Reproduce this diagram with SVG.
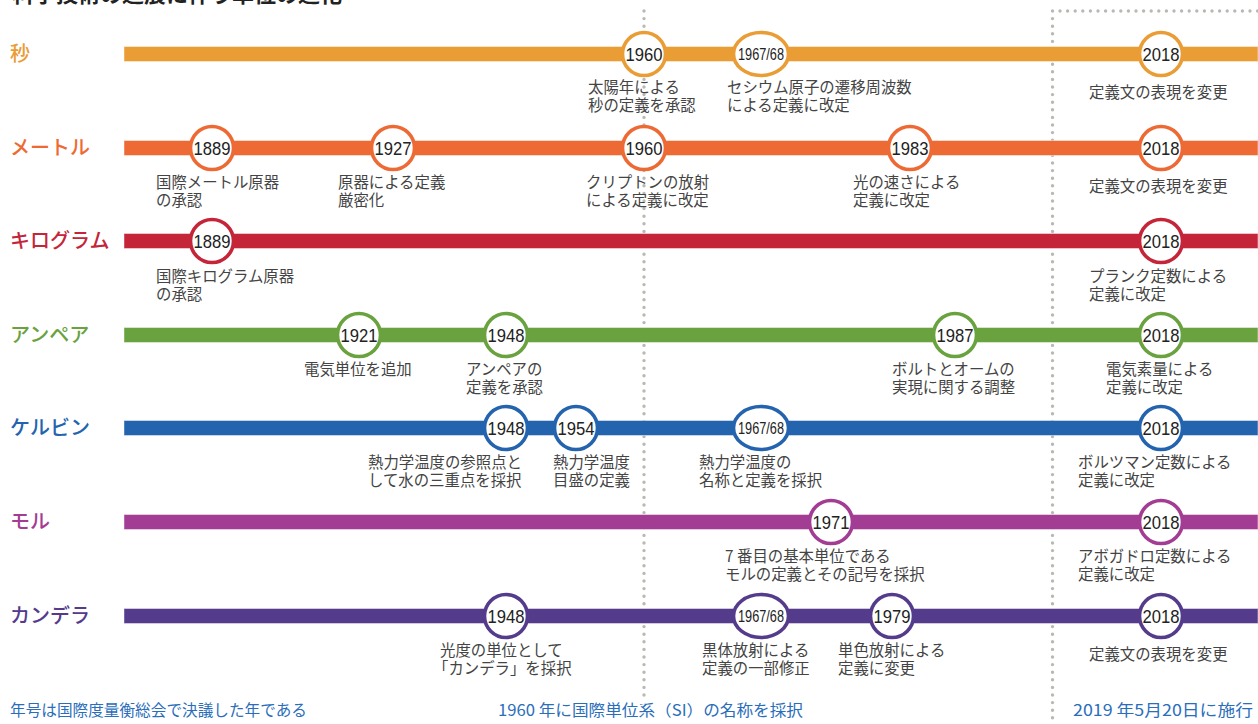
<svg xmlns="http://www.w3.org/2000/svg" width="1258" height="724" viewBox="0 0 1258 724">
<style>
.bg{fill:#ffffff}
.dot{stroke:#b9b9b3;stroke-width:3.4;stroke-linecap:round;stroke-dasharray:0 7.6;fill:none}
.bar{stroke:#ffffff;stroke-opacity:0.45;stroke-width:1}
.ring{fill:#ffffff;stroke-width:3.6}
.yr{font-family:"Liberation Sans",Arial,sans-serif;font-size:19px;fill:#222;text-anchor:middle}
.yr2{font-family:"Liberation Sans",Arial,sans-serif;font-size:16px;fill:#222;text-anchor:middle}
.lab{font-family:"Noto Sans CJK JP","Noto Sans",sans-serif;font-size:15.4px;fill:#444}
.unit{font-family:"Noto Sans CJK JP","Noto Sans",sans-serif;font-size:20px;font-weight:500}
.note{font-family:"Noto Sans CJK JP","Noto Sans",sans-serif;font-size:15.5px;fill:#2a6ebb}
.title{font-family:"Noto Sans CJK JP","Noto Sans",sans-serif;font-size:22px;font-weight:700;fill:#222}
.c1{fill:#ea9c35}.s1{stroke:#ea9c35}
.c2{fill:#ee6a34}.s2{stroke:#ee6a34}
.c3{fill:#c42539}.s3{stroke:#c42539}
.c4{fill:#69a23e}.s4{stroke:#69a23e}
.c5{fill:#2463ae}.s5{stroke:#2463ae}
.c6{fill:#a33c93}.s6{stroke:#a33c93}
.c7{fill:#553b8c}.s7{stroke:#553b8c}
</style>
<rect class="bg" x="0" y="0" width="1258" height="724"/>
<text class="title" x="12" y="2">科学技術の進展に伴う単位の進化</text>

<g id="guides">
<line class="dot" x1="644" y1="11" x2="644" y2="700"/>
<line class="dot" x1="1052.5" y1="11" x2="1052.5" y2="724"/>
<line class="dot" x1="1060" y1="11" x2="1258" y2="11"/>
</g>

<g id="connectors">
<rect class="bar c1" x="124" y="46.5" width="1134" height="15"/>
<rect class="bar c2" x="124" y="140.5" width="1134" height="15"/>
<rect class="bar c3" x="124" y="233.5" width="1134" height="15"/>
<rect class="bar c4" x="124" y="327.5" width="1134" height="15"/>
<rect class="bar c5" x="124" y="420.5" width="1134" height="15"/>
<rect class="bar c6" x="124" y="514.5" width="1134" height="15"/>
<rect class="bar c7" x="124" y="608.5" width="1134" height="15"/>
</g>

<g id="row-second">
<text class="unit c1" x="10" y="61">秒</text>
<g id="s1960"><circle class="ring s1" cx="644" cy="54" r="21.5"/><text class="yr" x="644" y="61" textLength="37" lengthAdjust="spacingAndGlyphs">1960</text>
<text class="lab" x="588" y="93">太陽年による</text><text class="lab" x="588" y="111">秒の定義を承認</text></g>
<g id="s1967"><ellipse class="ring s1" cx="761" cy="54" rx="27.5" ry="21.5"/><text class="yr2" x="761" y="60" textLength="46" lengthAdjust="spacingAndGlyphs">1967/68</text>
<text class="lab" x="727" y="93">セシウム原子の遷移周波数</text><text class="lab" x="727" y="111">による定義に改定</text></g>
<g id="s2018"><circle class="ring s1" cx="1161" cy="54" r="21.5"/><text class="yr" x="1161" y="61" textLength="37" lengthAdjust="spacingAndGlyphs">2018</text>
<text class="lab" x="1089" y="98">定義文の表現を変更</text></g>
</g>

<g id="row-metre">
<text class="unit c2" x="10" y="155">メートル</text>
<g id="m1889"><circle class="ring s2" cx="212" cy="148" r="21.5"/><text class="yr" x="212" y="155" textLength="37" lengthAdjust="spacingAndGlyphs">1889</text>
<text class="lab" x="156" y="188">国際メートル原器</text><text class="lab" x="156" y="206">の承認</text></g>
<g id="m1927"><circle class="ring s2" cx="393" cy="148" r="21.5"/><text class="yr" x="393" y="155" textLength="37" lengthAdjust="spacingAndGlyphs">1927</text>
<text class="lab" x="338" y="188">原器による定義</text><text class="lab" x="338" y="206">厳密化</text></g>
<g id="m1960"><circle class="ring s2" cx="644" cy="148" r="21.5"/><text class="yr" x="644" y="155" textLength="37" lengthAdjust="spacingAndGlyphs">1960</text>
<text class="lab" x="586" y="188">クリプトンの放射</text><text class="lab" x="586" y="206">による定義に改定</text></g>
<g id="m1983"><circle class="ring s2" cx="910" cy="148" r="21.5"/><text class="yr" x="910" y="155" textLength="37" lengthAdjust="spacingAndGlyphs">1983</text>
<text class="lab" x="853" y="188">光の速さによる</text><text class="lab" x="853" y="206">定義に改定</text></g>
<g id="m2018"><circle class="ring s2" cx="1161" cy="148" r="21.5"/><text class="yr" x="1161" y="155" textLength="37" lengthAdjust="spacingAndGlyphs">2018</text>
<text class="lab" x="1089" y="192">定義文の表現を変更</text></g>
</g>

<g id="row-kilogram">
<text class="unit c3" x="10" y="248">キログラム</text>
<g id="k1889"><circle class="ring s3" cx="212" cy="241" r="21.5"/><text class="yr" x="212" y="248" textLength="37" lengthAdjust="spacingAndGlyphs">1889</text>
<text class="lab" x="156" y="282">国際キログラム原器</text><text class="lab" x="156" y="300">の承認</text></g>
<g id="k2018"><circle class="ring s3" cx="1161" cy="241" r="21.5"/><text class="yr" x="1161" y="248" textLength="37" lengthAdjust="spacingAndGlyphs">2018</text>
<text class="lab" x="1089" y="282">プランク定数による</text><text class="lab" x="1089" y="300">定義に改定</text></g>
</g>

<g id="row-ampere">
<text class="unit c4" x="10" y="342">アンペア</text>
<g id="a1921"><circle class="ring s4" cx="359" cy="335" r="21.5"/><text class="yr" x="359" y="342" textLength="37" lengthAdjust="spacingAndGlyphs">1921</text>
<text class="lab" x="304" y="375">電気単位を追加</text></g>
<g id="a1948"><circle class="ring s4" cx="506" cy="335" r="21.5"/><text class="yr" x="506" y="342" textLength="37" lengthAdjust="spacingAndGlyphs">1948</text>
<text class="lab" x="466" y="375">アンペアの</text><text class="lab" x="466" y="393">定義を承認</text></g>
<g id="a1987"><circle class="ring s4" cx="955" cy="335" r="21.5"/><text class="yr" x="955" y="342" textLength="37" lengthAdjust="spacingAndGlyphs">1987</text>
<text class="lab" x="892" y="375">ボルトとオームの</text><text class="lab" x="892" y="393">実現に関する調整</text></g>
<g id="a2018"><circle class="ring s4" cx="1161" cy="335" r="21.5"/><text class="yr" x="1161" y="342" textLength="37" lengthAdjust="spacingAndGlyphs">2018</text>
<text class="lab" x="1106" y="375">電気素量による</text><text class="lab" x="1106" y="393">定義に改定</text></g>
</g>

<g id="row-kelvin">
<text class="unit c5" x="10" y="435">ケルビン</text>
<g id="t1948"><circle class="ring s5" cx="506" cy="428" r="21.5"/><text class="yr" x="506" y="435" textLength="37" lengthAdjust="spacingAndGlyphs">1948</text>
<text class="lab" x="368" y="468">熱力学温度の参照点と</text><text class="lab" x="368" y="486">して水の三重点を採択</text></g>
<g id="t1954"><circle class="ring s5" cx="576" cy="428" r="21.5"/><text class="yr" x="576" y="435" textLength="37" lengthAdjust="spacingAndGlyphs">1954</text>
<text class="lab" x="553" y="468">熱力学温度</text><text class="lab" x="553" y="486">目盛の定義</text></g>
<g id="t1967"><ellipse class="ring s5" cx="761" cy="428" rx="27.5" ry="21.5"/><text class="yr2" x="761" y="434" textLength="46" lengthAdjust="spacingAndGlyphs">1967/68</text>
<text class="lab" x="699" y="468">熱力学温度の</text><text class="lab" x="699" y="486">名称と定義を採択</text></g>
<g id="t2018"><circle class="ring s5" cx="1161" cy="428" r="21.5"/><text class="yr" x="1161" y="435" textLength="37" lengthAdjust="spacingAndGlyphs">2018</text>
<text class="lab" x="1078" y="468">ボルツマン定数による</text><text class="lab" x="1078" y="486">定義に改定</text></g>
</g>

<g id="row-mole">
<text class="unit c6" x="10" y="529">モル</text>
<g id="n1971"><circle class="ring s6" cx="831" cy="522" r="21.5"/><text class="yr" x="831" y="529" textLength="37" lengthAdjust="spacingAndGlyphs">1971</text>
<text class="lab" x="725" y="562">7 番目の基本単位である</text><text class="lab" x="725" y="580">モルの定義とその記号を採択</text></g>
<g id="n2018"><circle class="ring s6" cx="1161" cy="522" r="21.5"/><text class="yr" x="1161" y="529" textLength="37" lengthAdjust="spacingAndGlyphs">2018</text>
<text class="lab" x="1078" y="562">アボガドロ定数による</text><text class="lab" x="1078" y="580">定義に改定</text></g>
</g>

<g id="row-candela">
<text class="unit c7" x="10" y="623">カンデラ</text>
<g id="c1948"><circle class="ring s7" cx="506" cy="616" r="21.5"/><text class="yr" x="506" y="623" textLength="37" lengthAdjust="spacingAndGlyphs">1948</text>
<text class="lab" x="440" y="656">光度の単位として</text><text class="lab" x="433" y="674">「カンデラ」を採択</text></g>
<g id="c1967"><ellipse class="ring s7" cx="761" cy="616" rx="27.5" ry="21.5"/><text class="yr2" x="761" y="622" textLength="46" lengthAdjust="spacingAndGlyphs">1967/68</text>
<text class="lab" x="702" y="656">黒体放射による</text><text class="lab" x="702" y="674">定義の一部修正</text></g>
<g id="c1979"><circle class="ring s7" cx="892" cy="616" r="21.5"/><text class="yr" x="892" y="623" textLength="37" lengthAdjust="spacingAndGlyphs">1979</text>
<text class="lab" x="838" y="656">単色放射による</text><text class="lab" x="838" y="674">定義に変更</text></g>
<g id="c2018"><circle class="ring s7" cx="1161" cy="616" r="21.5"/><text class="yr" x="1161" y="623" textLength="37" lengthAdjust="spacingAndGlyphs">2018</text>
<text class="lab" x="1089" y="660">定義文の表現を変更</text></g>
</g>

<g id="notes">
<text class="note" x="10" y="716" textLength="297" lengthAdjust="spacingAndGlyphs">年号は国際度量衡総会で決議した年である</text>
<text class="note" x="498" y="716" textLength="305" lengthAdjust="spacingAndGlyphs">1960 年に国際単位系（SI）の名称を採択</text>
<text class="note" x="1073" y="716" textLength="180" lengthAdjust="spacingAndGlyphs">2019 年5月20日に施行</text>
</g>
</svg>
